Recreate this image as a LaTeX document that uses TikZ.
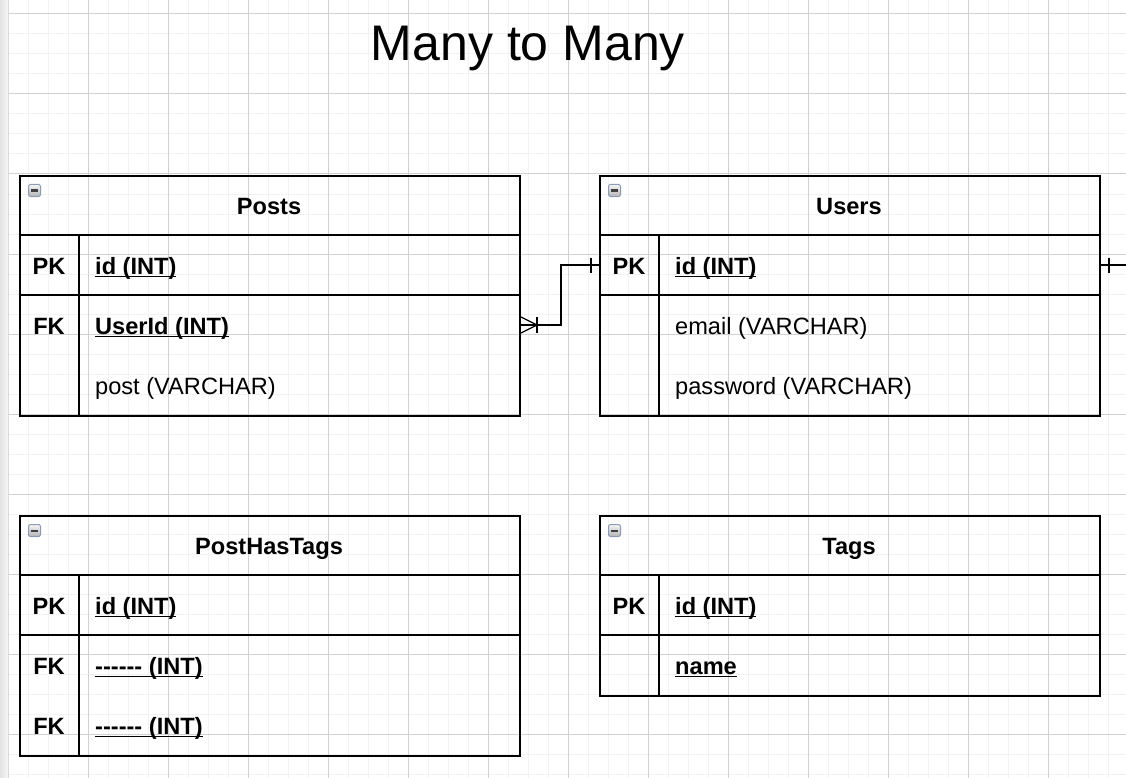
\documentclass[tikz,border=0pt]{standalone}
\usepackage{fontspec}
\setmainfont{Liberation Sans}
\newcommand\myul[1]{\setbox0\hbox{#1}\rlap{\rule[-3.2pt]{\wd0}{1.5pt}}\box0}
\newcommand\hyph{-\kern0pt-\kern0pt-\kern0pt-\kern0pt-\kern0pt-}
\tikzset{
  minorgrid/.style={draw=black!5, line width=1pt},
  majorgrid/.style={draw=black!18, line width=1pt},
  tablebox/.style={draw, line width=2pt, minimum width=500pt, inner sep=0pt, anchor=north west, fill=none},
  tline/.style={line width=2pt},
  hdr/.style={font=\fontsize{23.6}{28}\selectfont\bfseries, anchor=base, inner sep=0pt},
  keytxt/.style={font=\fontsize{23.6}{28}\selectfont\bfseries, anchor=base, inner sep=0pt},
  fld/.style={font=\fontsize{23.6}{28}\selectfont, anchor=base west, inner sep=0pt},
  fldb/.style={font=\fontsize{23.6}{28}\selectfont\bfseries, anchor=base west, inner sep=0pt},
  title/.style={font=\fontsize{50}{60}\selectfont, anchor=base, inner sep=0pt},
  conn/.style={line width=1.3pt, line cap=rect},
  endmark/.style={line width=1.3pt, line cap=butt},
  collapseicon/.pic={
    \path[draw={rgb,255:red,140;green,155;blue,178}, line width=1pt, top color=black!4, bottom color=black!30, rounded corners=1.5pt] (0,0) rectangle (12,12);
    \fill[black!75] (2.5,5) rectangle (9.5,7.2);
  }
}
\begin{document}
\begin{tikzpicture}[x=1pt,y=-1pt]
\useasboundingbox (0,0) rectangle (1126,778);
\fill[white] (0,0) rectangle (1126,778);
% grid
\foreach \x in {28,48,...,1108} \draw[minorgrid] (\x,0) -- (\x,778);
\foreach \y in {14,34,...,774} \draw[minorgrid] (9,\y) -- (1126,\y);
\foreach \x in {88,168,...,1048} \draw[majorgrid] (\x,0) -- (\x,778);
\foreach \y in {14,94,...,734} \draw[majorgrid] (9,\y) -- (1126,\y);
% left page strip
\shade[left color=black!11, right color=black!3] (0,0) rectangle (8,778);
\draw[black!14, line width=0.8pt] (8,0) -- (8,778);

% title
\node[title] (title) at (528,61) {Many to Many};

% ---------- Posts ----------
\node[tablebox, minimum height=240pt] (posts) at (19,175) {};
\draw[tline] (19,235) -- (519,235);
\draw[tline] (19,295) -- (519,295);
\draw[tline] (79,235) -- (79,415);
\pic at (28.5,184.5) {collapseicon};
\node[hdr] (postsT) at (269,214) {Posts};
\node[keytxt] (postsK1) at (49,274) {PK};
\node[fldb] (postsF1) at (95,274) {\myul{id (INT)}};
\node[keytxt] (postsK2) at (49,334) {FK};
\node[fldb] (postsF2) at (95,334) {\myul{UserId (INT)}};
\node[fld] (postsF3) at (95,394) {post (VARCHAR)};

% ---------- Users ----------
\node[tablebox, minimum height=240pt] (users) at (599,175) {};
\draw[tline] (599,235) -- (1099,235);
\draw[tline] (599,295) -- (1099,295);
\draw[tline] (659,235) -- (659,415);
\pic at (608.5,184.5) {collapseicon};
\node[hdr] (usersT) at (849,214) {Users};
\node[keytxt] (usersK1) at (629,274) {PK};
\node[fldb] (usersF1) at (675,274) {\myul{id (INT)}};
\node[fld] (usersF2) at (675,334) {email (VARCHAR)};
\node[fld] (usersF3) at (675,394) {password (VARCHAR)};

% ---------- PostHasTags ----------
\node[tablebox, minimum height=240pt] (pht) at (19,515) {};
\draw[tline] (19,575) -- (519,575);
\draw[tline] (19,635) -- (519,635);
\draw[tline] (79,575) -- (79,755);
\pic at (28.5,524.5) {collapseicon};
\node[hdr] (phtT) at (269,554) {PostHasTags};
\node[keytxt] (phtK1) at (49,614) {PK};
\node[fldb] (phtF1) at (95,614) {\myul{id (INT)}};
\node[keytxt] (phtK2) at (49,674) {FK};
\node[fldb] (phtF2) at (95,674) {\myul{\hyph{} (INT)}};
\node[keytxt] (phtK3) at (49,734) {FK};
\node[fldb] (phtF3) at (95,734) {\myul{\hyph{} (INT)}};

% ---------- Tags ----------
\node[tablebox, minimum height=180pt] (tags) at (599,515) {};
\draw[tline] (599,575) -- (1099,575);
\draw[tline] (599,635) -- (1099,635);
\draw[tline] (659,575) -- (659,695);
\pic at (608.5,524.5) {collapseicon};
\node[hdr] (tagsT) at (849,554) {Tags};
\node[keytxt] (tagsK1) at (629,614) {PK};
\node[fldb] (tagsF1) at (675,614) {\myul{id (INT)}};
\node[fldb] (tagsF2) at (675,674) {\myul{name}};

% ---------- connectors ----------
\path (posts.north east) ++(0,150) coordinate (postsUserId);
\path (users.north west) ++(0,90) coordinate (usersIdL);
\path (users.north east) ++(0,90) coordinate (usersIdR);
\coordinate (offpage) at (1127,265);

\draw[conn] (postsUserId) -- ++(40,0) |- (usersIdL);
% crow's foot (many) with bar at Posts
\draw[endmark] (postsUserId) ++(0,-8) -- ++(16,8) -- ++(-16,8);
\draw[endmark] (postsUserId) ++(16,-8) -- ++(0,16);
% bar (one) at Users
\draw[endmark] (usersIdL) ++(-8,-7.5) -- ++(0,15);
% right side connector going off
\draw[conn] (usersIdR) -- (offpage);
\draw[endmark] (usersIdR) ++(8,-7.5) -- ++(0,15);
\end{tikzpicture}
\end{document}
